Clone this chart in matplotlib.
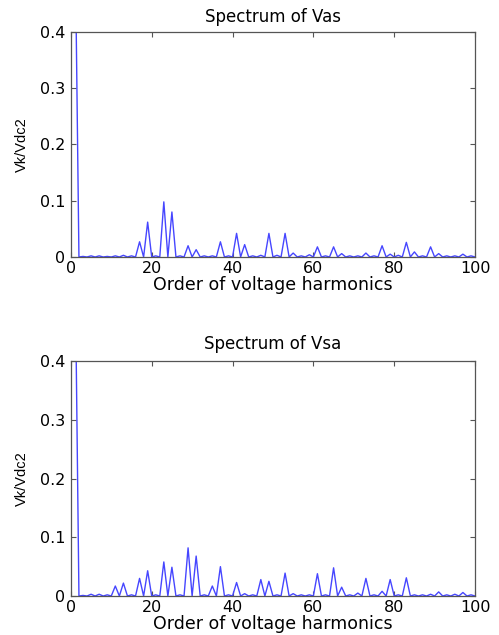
import matplotlib
matplotlib.use('Agg')
import matplotlib.pyplot as plt
import numpy as np

# harmonic orders shown on the x axis
orders = list(range(1, 101))

# odd harmonics and their amplitudes (Vk / Vdc/2), even ones are zero
odd_orders = list(range(1, 101, 2))
vas_amp = [0.60, 0.001, 0.002, 0.002, 0.001, 0.002, 0.003, 0.002, 0.027, 0.062,
           0.002, 0.098, 0.080, 0.002, 0.020, 0.013, 0.002, 0.002, 0.027, 0.002,
           0.042, 0.022, 0.002, 0.003, 0.042, 0.003, 0.042, 0.007, 0.002, 0.004,
           0.018, 0.002, 0.018, 0.006, 0.002, 0.002, 0.007, 0.002, 0.020, 0.005,
           0.003, 0.026, 0.009, 0.002, 0.018, 0.006, 0.002, 0.002, 0.005, 0.002]
vsa_amp = [0.60, 0.001, 0.003, 0.003, 0.002, 0.017, 0.022, 0.002, 0.030, 0.043,
           0.002, 0.058, 0.049, 0.002, 0.082, 0.068, 0.002, 0.017, 0.050, 0.002,
           0.023, 0.004, 0.002, 0.028, 0.025, 0.002, 0.039, 0.004, 0.002, 0.002,
           0.038, 0.002, 0.048, 0.015, 0.002, 0.005, 0.030, 0.002, 0.008, 0.028,
           0.002, 0.031, 0.002, 0.002, 0.003, 0.007, 0.002, 0.003, 0.006, 0.002]

titles = ['Spectrum of Vas', 'Spectrum of Vsa']
x_label = 'Order of voltage harmonics'
y_label = 'Vk/Vdc2'


def spectrum(amps):
    s = np.zeros(len(orders))
    for k, a in zip(odd_orders, amps):
        s[orders.index(k)] = a
    return s


fig = plt.figure(figsize=(4.99, 6.35), dpi=100)
boxes = [[0.142, 0.5953, 0.810, 0.3543], [0.142, 0.0614, 0.810, 0.370]]
pads = [7, 9]

for box, amps, title, pad in zip(boxes, [vas_amp, vsa_amp], titles, pads):
    ax = fig.add_axes(box)
    ax.plot(orders, spectrum(amps), color='#4646ff', lw=1.0)
    ax.set_xlim(0, 100)
    ax.set_ylim(0, 0.4)
    ax.set_xticks([0, 20, 40, 60, 80, 100])
    ax.set_yticks([0, 0.1, 0.2, 0.3, 0.4])
    ax.set_yticklabels(['0', '0.1', '0.2', '0.3', '0.4'])
    ax.tick_params(direction='in', top=True, right=True, length=3.5, width=0.8,
                   labelsize=11.5, color='#555555')
    ax.tick_params(axis='x', pad=3)
    ax.tick_params(axis='y', pad=4)
    for t in ax.get_xticklabels() + ax.get_yticklabels():
        t.set_family('DejaVu Sans')
    for sp in ax.spines.values():
        sp.set_color('#555555')
        sp.set_linewidth(0.9)
    ax.set_title(title, fontsize=12, family='DejaVu Sans', pad=pad)
    ax.set_xlabel(x_label, fontsize=12.5, family='DejaVu Sans', labelpad=0)
    ax.set_ylabel(y_label, fontsize=10.5, family='Liberation Sans', labelpad=8)

fig.savefig('out.png', dpi=100)
